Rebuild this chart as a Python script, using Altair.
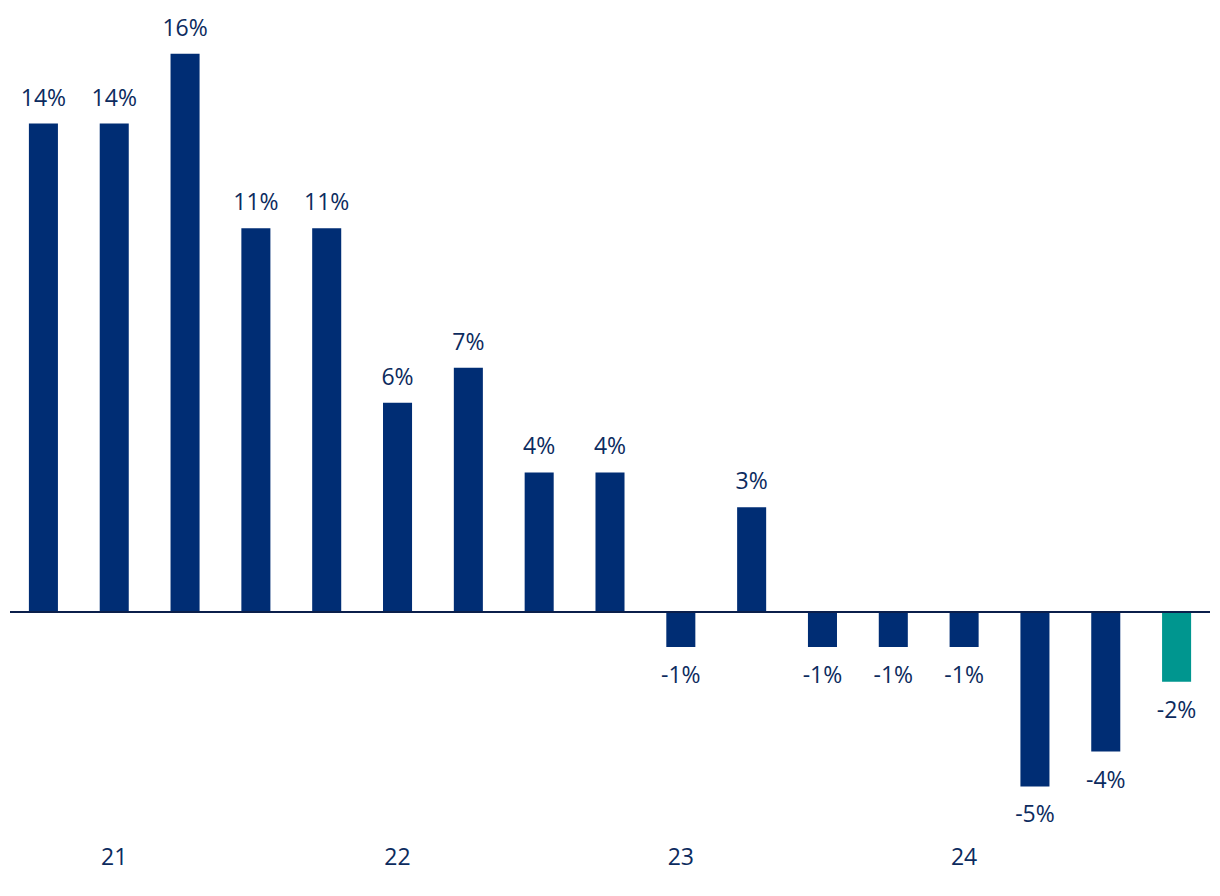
import altair as alt
import pandas as pd

quarters = ["Q4 20", "Q1 21", "Q2 21", "Q3 21", "Q4 21", "Q1 22", "Q2 22", "Q3 22",
            "Q4 22", "Q1 23", "Q2 23", "Q3 23", "Q4 23", "Q1 24", "Q2 24", "Q3 24", "Q4 24"]
values = [14, 14, 16, 11, 11, 6, 7, 4, 4, -1, 3, -1, -1, -1, -5, -4, -2]
highlight = [False] * 16 + [True]

df = pd.DataFrame({"quarter": quarters, "value": values,
                   "group": ["latest" if h else "history" for h in highlight]})

NAVY = "#002D74"
TEAL = "#00968F"
TEXT = "#0C2B5E"
FONT = "Open Sans"
FS = 23

x = alt.X("quarter:N", sort=quarters, title=None,
          scale=alt.Scale(paddingInner=0.59, paddingOuter=0.295),
          axis=alt.Axis(labelExpr="indexof(datum.label, 'Q1') == 0 ? substring(datum.label, 3) : ''",
                        labelAngle=0, domain=False, ticks=False, labelPadding=11,
                        labelFontSize=FS, labelFont=FONT, labelColor=TEXT))
y = alt.Y("value:Q", title=None, scale=alt.Scale(domain=[-6.39, 17.31], nice=False, zero=False),
          axis=None)

base = alt.Chart(df).transform_calculate(lbl="datum.value + '%'")

bars = base.mark_bar().encode(
    x=x, y=y,
    color=alt.Color("group:N", scale=alt.Scale(domain=["history", "latest"], range=[NAVY, TEAL]),
                    legend=None),
)

pos_text = base.transform_filter("datum.value >= 0").mark_text(
    baseline="alphabetic", dy=-18, fontSize=FS, font=FONT, color=TEXT
).encode(x=x, y=y, text="lbl:N")

neg_text = base.transform_filter("datum.value < 0").mark_text(
    baseline="alphabetic", dy=36, fontSize=FS, font=FONT, color=TEXT
).encode(x=x, y=y, text="lbl:N")

zero = alt.Chart(pd.DataFrame({"z": [0]})).mark_rule(color="#0B1F4B", strokeWidth=2).encode(
    y=alt.Y("z:Q", scale=alt.Scale(domain=[-6.39, 17.31], nice=False, zero=False), axis=None),
    x=alt.value(2), x2=alt.value(1202)
)

chart = alt.layer(bars, zero, pos_text, neg_text).properties(
    width=1204, height=827, padding={"left": 0, "top": 0, "right": 0, "bottom": 10}
).configure(background="white").configure_view(stroke=None, strokeWidth=0)

chart.save("out.html", embed_options={"renderer": "svg", "actions": False})
